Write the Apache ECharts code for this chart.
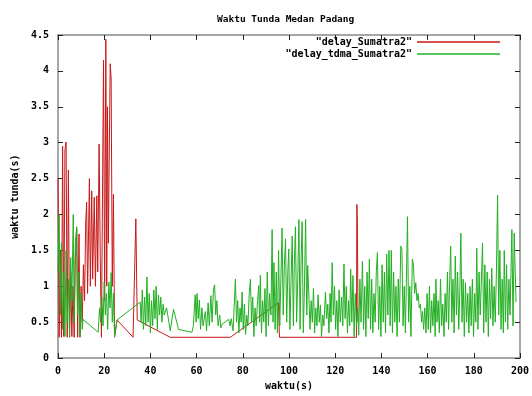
<!DOCTYPE html>
<html><head><meta charset="utf-8">
<script src="https://cdn.jsdelivr.net/npm/echarts@6/dist/echarts.min.js"></script>
<style>html,body{margin:0;padding:0;background:#fff}#c{width:532px;height:396px}</style>
</head><body><div id="c"></div>
<script>
const chartTitle = 'Waktu Tunda Medan Padang';
const xName = 'waktu(s)';
const yName = 'waktu tunda(s)';
const seriesNames = ['"delay_Sumatra2"', '"delay_tdma_Sumatra2"'];

const redData = [
[0,2.5],[0.5,0.29],[1,1.5],[1.5,0.29],[2,2.95],[2.5,0.3],[3,2.9],[3.5,3.01],[4,0.29],[4.5,2.62],[5,0.29],[5.5,1.2],[6,0.3],[6.5,1.0],[7,0.29],[7.5,1.4],[8.1,1.8],[8.5,0.29],[9.1,1.73],[9.5,0.29],[10,1.0],[10.5,0.5],[11,1.3],[11.5,0.8],[12,1.9],[12.4,2.17],[12.8,0.9],[13.6,2.5],[14,1.0],[14.6,2.33],[15,1.1],[15.7,2.24],[16.2,1.0],[16.8,2.26],[17.2,1.2],[17.8,2.98],[18.3,1.4],[18.8,0.29],[19.7,4.15],[20.2,0.8],[20.7,4.44],[21.1,1.0],[21.4,3.5],[21.8,1.6],[22.6,4.1],[23,3.9],[23.5,1.0],[24,2.28],[24.5,0.29],[25.2,0.29],[25.6,0.53],[32.5,0.29],[33.7,1.94],[34.3,0.53],[48.6,0.29],[74.6,0.29],[95.4,0.77],[95.9,0.29],[129.2,0.29],[129.4,2.14],[129.6,1.9],[129.9,0.5]
];

const greenData = [
[0,1.2],[0.5,2.0],[1,0.6],[1.5,1.6],[2,0.4],[2.5,1.2],[3,0.3],[3.5,1.5],[4,0.5],[4.5,1.1],[5,0.3],[5.5,1.4],[6,0.8],[6.6,2.0],[7,0.5],[7.5,1.6],[8.1,1.83],[8.5,0.6],[9,1.2],[9.5,0.3],[10,0.9],[10.5,0.4],[10.8,0.54],
[17.4,0.36],[18,0.7],[18.5,0.5],[19,0.84],[19.5,0.45],[20,1.06],[20.5,0.6],[21,0.9],[21.5,0.4],[22,1.06],[22.5,0.7],[23,1.19],[23.5,0.5],[24,0.9],[24.5,0.3],[25.5,0.53],
[35.6,0.78],[36,0.5],[36.5,0.95],[37,0.4],[37.5,0.85],[38,0.45],[38.5,1.13],[39,0.5],[39.5,0.9],[40,0.35],[40.5,0.8],[41,0.45],[41.5,0.95],[42,0.55],[42.5,1.0],[43,0.4],[43.5,0.88],[44,0.6],[44.5,0.85],[45,0.5],[45.5,0.75],[46,0.6],[47,0.7],[48,0.5],[48.6,0.38],[50,0.68],[52.2,0.4],[58,0.36],[58.6,0.45],
[59.4,0.88],[59.8,0.5],[60.2,0.9],[60.7,0.55],[61.2,0.81],[61.7,0.4],[62.3,0.7],[62.8,0.45],[63.8,0.65],[64.3,0.38],[65,0.77],[65.5,0.45],[66.2,0.87],[66.7,0.5],[67.3,0.95],[67.8,1.02],[68.3,0.6],[68.8,0.8],[69.3,0.45],[70,0.6],[70.5,0.42],[71,0.47],[73.9,0.54],[74.5,0.45],[75,0.55],[75.8,0.38],
[76.8,1.1],[77.3,0.5],[77.8,0.8],[78.3,0.35],[78.8,0.7],[79.3,0.5],[79.7,0.92],[80.2,0.4],[80.7,0.75],[81.2,0.33],[81.7,0.6],[82.2,0.45],[82.8,0.9],[83.3,1.1],[83.8,0.5],[84.3,0.85],[84.8,0.3],[85.3,0.7],[85.8,0.45],[86.4,0.8],[86.9,1.01],[87.3,0.5],[87.6,1.15],[88.1,0.35],[88.6,0.8],[89.1,0.5],[89.6,0.97],[90.1,0.3],[90.6,1.2],[91.1,0.45],[91.6,0.9],[92.2,0.6],[92.7,1.79],[93.1,0.5],[93.5,1.33],[94,0.4],[94.5,1.2],[95,0.35],[95.5,1.5],[96,0.45],[96.5,1.1],[97,1.81],[97.5,0.6],[98,1.3],[98.5,1.66],[99,0.5],[99.5,1.2],[99.9,1.52],[100.4,0.4],[100.9,1.1],[101.4,1.7],[101.9,0.45],[102.3,1.3],[102.8,1.83],[103.3,0.5],[103.8,1.1],[104.3,1.93],[104.8,0.4],[105.2,1.3],[105.7,1.9],[106.2,0.35],[106.7,1.0],[107.2,1.93],[107.7,0.6],[108.1,1.29],[108.6,0.88],[109.1,0.4],[109.6,0.8],[110.1,0.5],[110.6,0.97],[111.1,0.35],[111.6,0.7],[112.1,0.45],[112.6,0.88],[113.1,0.5],[113.6,0.74],[114.1,0.3],[114.6,0.6],[115.1,0.45],[115.8,0.92],[116.3,0.55],[116.8,0.75],[117.3,0.35],[117.8,0.9],[118.2,0.5],[118.7,1.33],[119.2,0.6],[119.7,1.0],[120.2,0.4],[120.7,0.8],[121.2,0.3],[121.7,0.95],[122.2,0.5],[122.8,0.85],[123.3,0.45],[123.8,1.31],[124.3,0.55],[124.8,1.0],[125.3,0.35],[125.8,0.8],[126.3,0.45],[126.7,1.24],[127.2,0.5],[127.7,1.15],[128.2,0.3],[128.7,0.9],[129.2,0.45],[129.7,0.7],[130.2,0.32],[130.7,1.1],[131.2,0.5],[131.8,1.35],[132.3,0.4],[132.8,1.0],[133.3,0.3],[133.8,1.2],[134.3,0.55],[134.8,1.38],[135.3,0.4],[135.8,1.1],[136.3,0.35],[136.8,0.9],[137.3,0.5],[137.8,1.2],[138.3,1.47],[138.8,0.4],[139.3,1.0],[139.8,0.3],[140.3,1.3],[140.8,0.5],[141.3,1.2],[141.8,0.35],[142.3,1.45],[142.8,0.6],[143.3,1.5],[143.8,0.45],[144.3,1.5],[144.8,0.35],[145.3,1.2],[145.8,0.5],[146.3,1.0],[146.8,0.3],[147.3,1.1],[147.8,0.5],[148.4,1.56],[148.9,1.52],[149.4,0.45],[149.9,1.0],[150.4,0.35],[150.9,1.2],[151.3,1.97],[151.8,0.5],[152.3,1.0],[152.8,0.3],[153.4,1.38],[153.9,1.3],[154.4,0.9],[154.9,1.05],[155.4,0.8],[155.9,0.9],[156.4,0.7],[156.9,0.75],[157.4,0.5],[157.8,0.65],[158.3,0.4],[158.8,0.7],[159.3,0.35],[159.8,0.9],[160.3,0.4],[160.8,1.0],[161.3,0.35],[161.8,0.8],[162.3,0.45],[162.8,0.9],[163.3,0.3],[163.6,1.1],[164.1,0.5],[164.6,0.8],[165.1,0.35],[165.6,1.1],[166.1,0.45],[166.6,0.75],[167.1,0.3],[167.6,0.9],[168.1,0.5],[168.6,1.2],[169.1,0.4],[169.5,1.0],[170,1.56],[170.5,0.5],[171,1.1],[171.5,0.35],[172,1.42],[172.5,0.6],[173,1.2],[173.5,0.4],[174,1.0],[174.4,1.74],[174.9,0.5],[175.4,1.1],[175.9,0.3],[176.4,1.05],[176.9,0.5],[177.4,0.9],[177.9,0.35],[178.4,1.0],[178.9,0.45],[179.4,1.1],[179.9,0.3],[180.4,0.9],[180.9,0.5],[181.3,1.53],[181.8,0.4],[182.3,1.2],[182.8,0.6],[183.3,1.1],[183.8,1.6],[184.3,0.35],[184.8,1.3],[185.3,0.5],[185.8,1.2],[186.3,0.3],[186.8,1.1],[187.3,0.55],[187.8,1.25],[188.3,0.45],[188.8,1.0],[189.3,0.5],[189.8,1.2],[190.3,2.27],[190.8,0.6],[191.3,1.5],[191.8,0.4],[192.3,1.1],[192.8,0.35],[193.2,1.5],[193.7,0.5],[194.2,1.3],[194.7,0.4],[195.2,1.1],[195.7,0.6],[196.5,1.79],[197,0.45],[197.5,1.74],[198.3,0.78]
];

const FONT = 'DejaVu Sans Mono';
const chart = echarts.init(document.getElementById('c'), null, {renderer: 'canvas'});
const tickStyle = {inside: true, length: 5, lineStyle: {color: '#222', width: 1}};
const frame = {show: true, onZero: false, lineStyle: {color: '#888', width: 1.5}};
const txt = {fontFamily: FONT, fontWeight: 'bold', fontSize: 10, color: '#000'};
chart.setOption({
  animation: false,
  backgroundColor: '#fff',
  title: {text: chartTitle, left: 212, top: 10, textStyle: Object.assign({}, txt, {fontSize: 9.5})},
  legend: [
    {data: [seriesNames[0]], right: 32, top: 37, orient: 'vertical', align: 'right',
     icon: 'rect', itemWidth: 83, itemHeight: 1.5, padding: 0, textStyle: txt},
    {data: [seriesNames[1]], right: 32, top: 49, orient: 'vertical', align: 'right',
     icon: 'rect', itemWidth: 83, itemHeight: 1.5, padding: 0, textStyle: txt}
  ],
  grid: {left: 58, right: 12, top: 35, bottom: 32, containLabel: false},
  xAxis: [
    {type: 'value', min: 0, max: 200, interval: 20, position: 'bottom',
     name: xName, nameLocation: 'middle', nameGap: 16, nameTextStyle: txt,
     axisLine: frame, axisTick: tickStyle, splitLine: {show: false},
     axisLabel: Object.assign({}, txt, {margin: 8})},
    {type: 'value', min: 0, max: 200, interval: 20, position: 'top',
     axisLine: frame, axisTick: tickStyle, splitLine: {show: false}, axisLabel: {show: false}}
  ],
  yAxis: [
    {type: 'value', min: 0, max: 4.5, interval: 0.5, position: 'left',
     name: yName, nameLocation: 'middle', nameGap: 36, nameRotate: 90, nameTextStyle: txt,
     axisLine: frame, axisTick: tickStyle, splitLine: {show: false},
     axisLabel: Object.assign({}, txt, {margin: 9, formatter: v => String(v)})},
    {type: 'value', min: 0, max: 4.5, interval: 0.5, position: 'right',
     axisLine: frame, axisTick: tickStyle, splitLine: {show: false}, axisLabel: {show: false}}
  ],
  series: [
    {name: seriesNames[0], type: 'line', data: redData, showSymbol: false, symbol: 'none',
     color: '#c81818', lineStyle: {width: 1, color: '#c81818'}, z: 2},
    {name: seriesNames[1], type: 'line', data: greenData, showSymbol: false, symbol: 'none',
     color: '#22b022', lineStyle: {width: 1, color: '#22b022'}, z: 3}
  ]
});
</script></body></html>
